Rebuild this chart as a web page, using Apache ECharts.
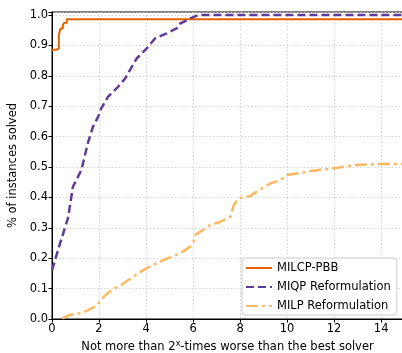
<!DOCTYPE html>
<html>
<head>
<meta charset="utf-8">
<script src="https://cdn.jsdelivr.net/npm/echarts@6/dist/echarts.min.js"></script>
<style>
  html, body { margin: 0; padding: 0; background: #fff; }
  #chart { width: 402px; height: 353px; }
</style>
</head>
<body>
<div id="chart"></div>
<script>
// performance profile
var pbbX = [0, 0.2, 0.29, 0.36, 0.46, 0.53, 0.63, 14.95];
var pbbY = [0.886, 0.89, 0.934, 0.956, 0.967, 0.975, 0.986, 0.986];

var miqpX = [0, 0.32, 0.68, 0.89, 1.25, 1.53, 1.74, 1.96, 2.1, 2.38, 2.81, 3.1, 3.6, 4.03, 4.38, 4.88, 5.3, 5.45, 5.88, 6.23, 14.95];
var miqpY = [0.16, 0.243, 0.332, 0.435, 0.49, 0.58, 0.632, 0.665, 0.694, 0.731, 0.764, 0.79, 0.857, 0.89, 0.923, 0.94, 0.956, 0.972, 0.989, 1.0, 1.0];

var milpX = [0.44, 0.75, 1.32, 1.6, 1.89, 2.03, 2.24, 2.53, 2.96, 3.24, 3.6, 4.03, 4.59, 5.02, 5.45, 5.88, 6.02, 6.09, 6.3, 6.73, 7.16, 7.59, 7.73, 7.94, 8.44, 8.8, 9.29, 9.72, 10.0, 10.7, 11.0, 12.0, 13.0, 14.0, 14.95];
var milpY = [0.002, 0.013, 0.021, 0.032, 0.043, 0.057, 0.076, 0.095, 0.112, 0.128, 0.147, 0.167, 0.189, 0.203, 0.216, 0.238, 0.254, 0.276, 0.287, 0.309, 0.32, 0.337, 0.375, 0.397, 0.405, 0.424, 0.446, 0.457, 0.474, 0.482, 0.487, 0.496, 0.507, 0.51, 0.51];

var xTicks = [0, 2, 4, 6, 8, 10, 12, 14];

function pairs(xs, ys) {
  return xs.map(function (x, i) { return [x, ys[i]]; });
}

var chart = echarts.init(document.getElementById('chart'), null, { renderer: 'canvas' });
var font = 'DejaVu Sans';
var fs = 11.5;
var gridLine = { show: true, lineStyle: { color: '#c8c8c8', type: [1.5, 2], width: 0.8 } };

var option = {
  animation: false,
  textStyle: { fontFamily: font },
  grid: {
    left: 52, right: -1, top: 12, bottom: 34,
    outerBoundsMode: 'none', containLabel: false,
    show: true, borderColor: '#000', borderWidth: 1, backgroundColor: 'transparent'
  },
  legend: {
    orient: 'vertical',
    left: 242, top: 258,
    padding: [4, 6, 3, 3],
    itemWidth: 26, itemHeight: 10, itemGap: 7,
    backgroundColor: 'rgba(255,255,255,0.85)',
    borderColor: '#cccccc', borderWidth: 1, borderRadius: 3,
    itemStyle: { opacity: 0 },
    textStyle: { fontFamily: font, fontSize: fs, color: '#000' },
    data: ['MILCP-PBB', 'MIQP Reformulation', 'MILP Reformulation']
  },
  xAxis: {
    type: 'value', min: 0, max: 14.93, interval: 2,
    name: 'Not more than 2{sup|x}-times worse than the best solver',
    nameLocation: 'middle', nameGap: 21,
    nameTextStyle: {
      fontFamily: font, fontSize: fs, color: '#000',
      rich: { sup: { fontSize: 8, verticalAlign: 'top', padding: [0, 0, 6, 0], fontFamily: font, color: '#000' } }
    },
    axisLine: { onZero: false, lineStyle: { color: '#000', width: 1 } },
    axisTick: { length: 3.5, lineStyle: { color: '#000' } },
    axisLabel: {
      fontFamily: font, fontSize: fs, color: '#000', margin: 4,
      formatter: function (v) { return xTicks.indexOf(v) >= 0 ? String(v) : ''; }
    },
    splitLine: gridLine
  },
  yAxis: {
    type: 'value', min: 0, max: 1.01, interval: 0.1,
    name: '% of instances solved',
    nameLocation: 'middle', nameGap: 32,
    nameTextStyle: { fontFamily: font, fontSize: fs, color: '#000' },
    axisLine: { show: true, lineStyle: { color: '#000', width: 1 } },
    axisTick: { show: true, length: 3.5, lineStyle: { color: '#000' } },
    axisLabel: {
      fontFamily: font, fontSize: fs, color: '#000', margin: 4,
      formatter: function (v) { return v > 1.0001 ? '' : v.toFixed(1); }
    },
    splitLine: gridLine
  },
  series: [
    {
      name: 'MILCP-PBB', type: 'line', step: 'end', symbol: 'none', z: 3,
      itemStyle: { color: '#e66101' },
      lineStyle: { color: '#e66101', width: 2 },
      data: pairs(pbbX, pbbY)
    },
    {
      name: 'MIQP Reformulation', type: 'line', symbol: 'none', z: 4,
      itemStyle: { color: '#5e3c99' },
      lineStyle: { color: '#5e3c99', width: 2.5, type: [8, 4] },
      data: pairs(miqpX, miqpY)
    },
    {
      name: 'MILP Reformulation', type: 'line', symbol: 'none', z: 2,
      itemStyle: { color: '#fdb863' },
      lineStyle: { color: '#fdb863', width: 2.5, type: [12, 4, 3, 4] },
      data: pairs(milpX, milpY)
    }
  ]
};
chart.setOption(option);
</script>
</body>
</html>
